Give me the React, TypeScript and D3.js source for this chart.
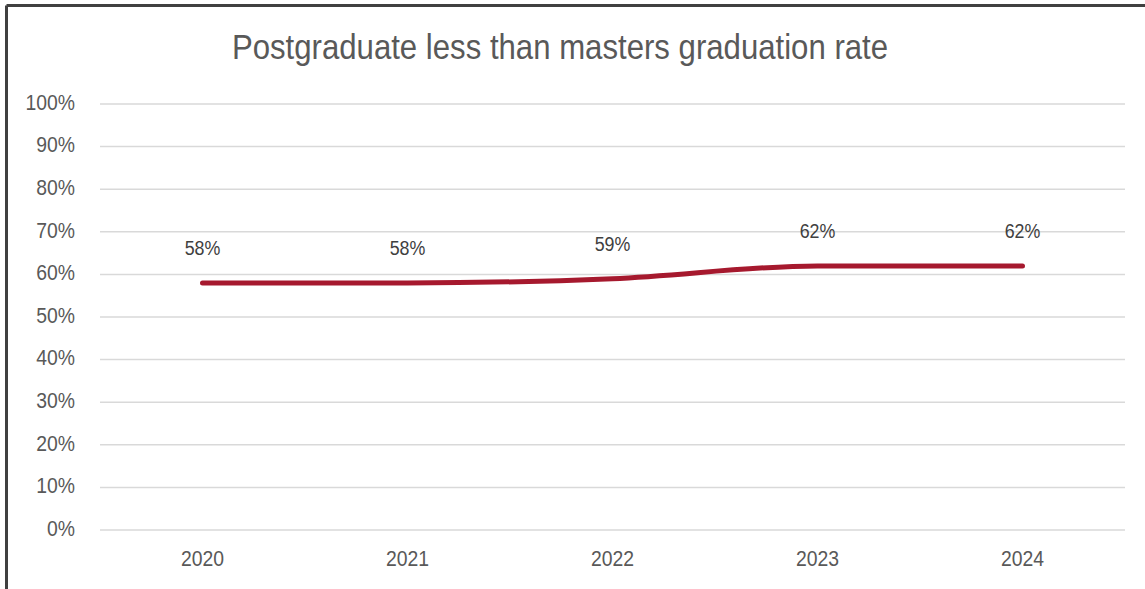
import React from "react";
import * as d3 from "d3";

const categories = ["2020", "2021", "2022", "2023", "2024"];
const values = [0.58, 0.58, 0.59, 0.62, 0.62];
const yTicks = [0, 0.1, 0.2, 0.3, 0.4, 0.5, 0.6, 0.7, 0.8, 0.9, 1.0];
const title = "Postgraduate less than masters graduation rate";

const W = 1145;
const H = 589;
const FONT = "'Liberation Sans', Arial, sans-serif";

function NText(props: { x: number; y: number; sx: number; size: number; anchor?: string; fill: string; dy?: string; children: React.ReactNode }) {
  return (
    <text
      transform={`translate(${props.x},${props.y}) scale(${props.sx},1)`}
      textAnchor={props.anchor || "middle"}
      dy={props.dy}
      fontFamily={FONT}
      fontSize={props.size}
      fill={props.fill}
    >
      {props.children}
    </text>
  );
}

export default function App() {
  const x = d3.scaleBand<string>().domain(categories).range([100, 1125]);
  const y = d3.scaleLinear().domain([0, 1]).range([530, 104]);
  const pts: [number, number][] = categories.map((c, i) => [x(c)! + x.bandwidth() / 2, y(values[i])]);
  const line = d3.line().curve(d3.curveMonotoneX)(pts) || "";
  const fmt = d3.format(".0%");
  return (
    <svg width={W} height={H} style={{ position: "absolute", left: 0, top: 0, background: "#fff" }}>
      <rect x={0} y={0} width={W} height={H} fill="#fff" />
      <line x1={6.5} y1={5.5} x2={W} y2={5.5} stroke="#404040" strokeWidth={3} />
      <line x1={6.5} y1={5.5} x2={6.5} y2={H} stroke="#404040" strokeWidth={3} />
      <NText x={560} y={59} sx={0.89} size={35} fill="#595959">{title}</NText>
      {yTicks.map((t) => (
        <g key={t}>
          <line x1={100} x2={1125} y1={y(t)} y2={y(t)} stroke="#d9d9d9" strokeWidth={1.5} />
          <NText x={75} y={y(t) - 2} dy="0.35em" anchor="end" sx={0.88} size={22} fill="#595959">{fmt(t)}</NText>
        </g>
      ))}
      {categories.map((c) => (
        <NText key={c} x={x(c)! + x.bandwidth() / 2} y={566} sx={0.88} size={22} fill="#595959">{c}</NText>
      ))}
      <path d={line} fill="none" stroke="#A6192E" strokeWidth={5} strokeLinecap="round" strokeLinejoin="round" />
      {pts.map((p, i) => (
        <NText key={i} x={p[0]} y={p[1] - 28} sx={0.85} size={21} fill="#404040">{fmt(values[i])}</NText>
      ))}
    </svg>
  );
}
